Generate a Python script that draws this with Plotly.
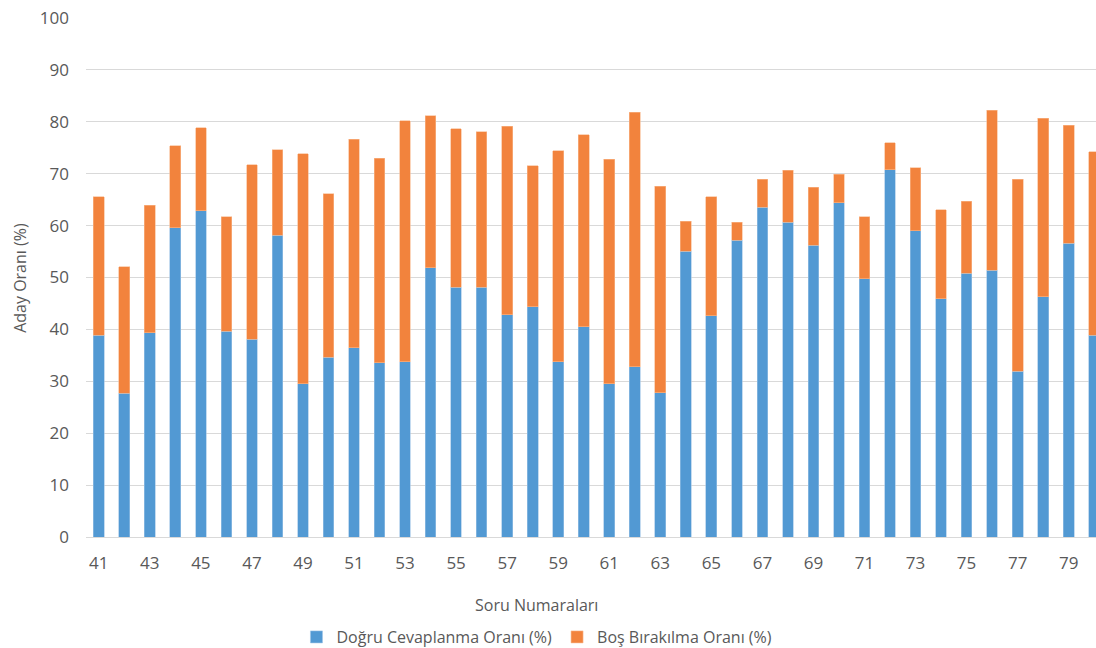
import plotly.graph_objects as go

questions = list(range(41, 81))

correct = [
    38.9, 27.7, 39.4, 59.6, 62.9, 39.6, 38.1, 58.1, 29.5, 34.6,
    36.5, 33.6, 33.8, 51.9, 48.1, 48.1, 42.8, 44.4, 33.8, 40.5,
    29.5, 32.8, 27.8, 55.1, 42.6, 57.2, 63.5, 60.6, 56.2, 64.4,
    49.8, 70.8, 59.0, 45.9, 50.8, 51.4, 31.9, 46.3, 56.6, 38.9,
]
totals = [
    65.6, 52.1, 63.9, 75.4, 78.9, 61.7, 71.7, 74.6, 73.8, 66.1,
    76.6, 73.0, 80.2, 81.2, 78.7, 78.1, 79.1, 71.5, 74.4, 77.5,
    72.8, 81.8, 67.6, 60.8, 65.6, 60.6, 68.9, 70.7, 67.4, 69.9,
    61.7, 76.0, 71.1, 63.1, 64.7, 82.2, 68.9, 80.7, 79.3, 74.2,
]
blank = [round(t - c, 1) for t, c in zip(totals, correct)]

tick_vals = list(range(41, 80, 2))

text_color = "#595959"
font_family = "Open Sans, Noto Sans, sans-serif"

fig = go.Figure()
fig.add_trace(
    go.Bar(
        x=questions,
        y=correct,
        name="Doğru Cevaplanma Oranı (%)",
        marker=dict(color="#5299D3", line=dict(color="#9CC3E6", width=0.6)),
    )
)
fig.add_trace(
    go.Bar(
        x=questions,
        y=blank,
        name="Boş Bırakılma Oranı (%)",
        marker=dict(color="#F2833D", line=dict(color="#F8B98E", width=0.6)),
    )
)

fig.update_layout(
    width=1096,
    height=648,
    barmode="stack",
    bargap=0.58,
    plot_bgcolor="white",
    paper_bgcolor="white",
    margin=dict(l=86, r=0, t=18, b=111, autoexpand=False),
    font=dict(family=font_family, color=text_color, size=16),
    legend=dict(
        orientation="h",
        traceorder="normal",
        xref="paper",
        x=0.4465,
        xanchor="center",
        yref="container",
        y=0.017,
        yanchor="middle",
        font=dict(size=16, color=text_color),
        itemclick=False,
    ),
    xaxis=dict(
        range=[40.5, 80.07],
        tickvals=tick_vals,
        tickfont=dict(size=17, color=text_color),
        ticklabelstandoff=14,
        showgrid=False,
        showline=False,
        zeroline=False,
    ),
    yaxis=dict(
        range=[0, 100],
        dtick=10,
        tickfont=dict(size=17, color=text_color),
        ticklabelstandoff=16,
        gridcolor="#D9D9D9",
        gridwidth=1,
        zeroline=True,
        zerolinecolor="#D9D9D9",
        zerolinewidth=1,
        showline=False,
    ),
    annotations=[
        dict(
            text="Aday Oranı (%)",
            xref="paper",
            yref="paper",
            x=-0.066,
            xanchor="center",
            y=0.5,
            yanchor="middle",
            textangle=-90,
            showarrow=False,
            font=dict(size=16, color=text_color),
        ),
        dict(
            text="Soru Numaraları",
            xref="paper",
            yref="paper",
            x=0.4465,
            xanchor="center",
            y=-0.131,
            yanchor="middle",
            showarrow=False,
            font=dict(size=16, color=text_color),
        ),
    ],
)

# drop the default page margin so the figure sits flush in the window
fig.write_html(
    "out.html",
    config={"displayModeBar": False},
    post_script="document.body.style.margin='0';document.body.style.overflow='hidden';",
)
